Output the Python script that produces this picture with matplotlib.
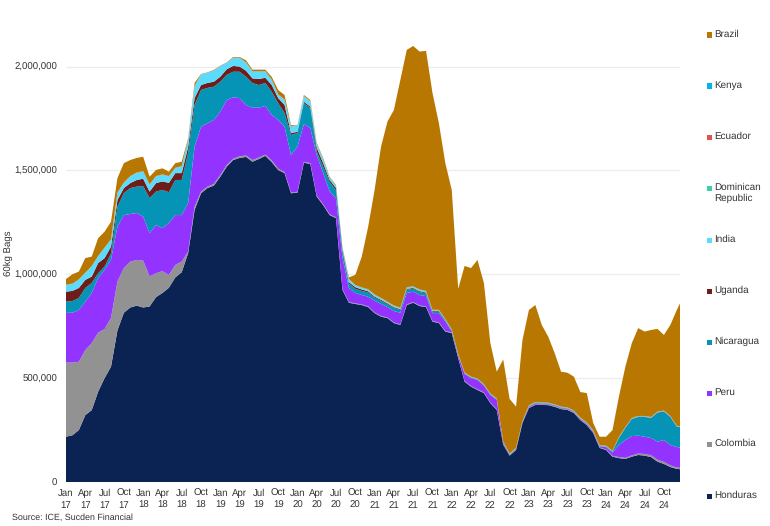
import numpy as np
import matplotlib
matplotlib.use("Agg")
import matplotlib.pyplot as plt
from matplotlib.patches import Rectangle

plt.rcParams['font.family'] = ['Liberation Sans', 'DejaVu Sans']
plt.rcParams['text.hinting'] = 'no_hinting'

# monthly readings from Jan 17, thousand bags, each list is the top edge of that band in the stack
honduras_top = [
    218, 225, 250, 322, 346, 435, 500, 555, 730, 815, 840, 849,
    840, 845, 890, 910, 935, 985, 1010, 1102, 1310, 1390, 1415, 1427,
    1470, 1518, 1550, 1560, 1565, 1542, 1555, 1570, 1540, 1502, 1487, 1390,
    1393, 1537, 1531, 1374, 1333, 1285, 1270, 925, 863, 857, 852, 842,
    813, 796, 789, 765, 756, 852, 863, 847, 842, 772, 765, 724,
    717, 597, 483, 459, 443, 428, 380, 347, 180, 127, 154, 284,
    356, 371, 371, 370, 362, 351, 347, 332, 298, 274, 236, 164,
    154, 122, 115, 111, 122, 130, 127, 120, 98, 87, 72, 63,
    60]
colombia_top = [
    575, 575, 579, 635, 668, 719, 736, 790, 965, 1030, 1061, 1069,
    1066, 990, 1005, 1015, 997, 1045, 1061, 1110, 1325, 1398, 1422, 1435,
    1478, 1526, 1556, 1568, 1572, 1550, 1562, 1576, 1548, 1508, 1492, 1394,
    1397, 1541, 1535, 1378, 1337, 1289, 1274, 928, 866, 860, 855, 845,
    816, 799, 792, 768, 759, 855, 866, 850, 845, 775, 768, 727,
    720, 600, 486, 462, 446, 431, 383, 350, 182, 129, 156, 286,
    358, 373, 373, 372, 364, 353, 349, 334, 300, 276, 238, 166,
    157, 126, 120, 116, 128, 137, 135, 129, 107, 97, 80, 70,
    67]
peru_top = [
    814, 815, 828, 868, 910, 982, 1021, 1070, 1229, 1285, 1290, 1295,
    1277, 1198, 1237, 1222, 1247, 1285, 1285, 1343, 1614, 1710, 1727, 1743,
    1783, 1839, 1852, 1848, 1815, 1802, 1802, 1810, 1767, 1743, 1710, 1574,
    1614, 1723, 1704, 1574, 1487, 1400, 1365, 1080, 934, 910, 900, 892,
    873, 857, 842, 823, 815, 910, 916, 900, 895, 813, 813, 772,
    724, 610, 520, 500, 491, 464, 419, 395, 188, 130, 158, 288,
    362, 378, 376, 375, 367, 356, 352, 337, 303, 280, 242, 170,
    168, 141, 178, 202, 221, 223, 218, 212, 194, 202, 178, 168,
    165]
nicaragua_top = [
    868, 871, 886, 934, 958, 1005, 1037, 1100, 1325, 1391, 1415, 1422,
    1425, 1367, 1398, 1406, 1395, 1454, 1454, 1584, 1815, 1887, 1897, 1903,
    1927, 1960, 1975, 1975, 1951, 1921, 1911, 1921, 1879, 1824, 1776, 1671,
    1680, 1824, 1800, 1590, 1518, 1445, 1405, 1110, 955, 930, 920, 912,
    888, 872, 855, 838, 828, 925, 930, 915, 908, 820, 820, 778,
    728, 612, 522, 502, 493, 466, 421, 397, 190, 132, 160, 290,
    364, 380, 378, 377, 369, 358, 354, 339, 305, 282, 244, 172,
    170, 146, 212, 260, 303, 313, 313, 308, 334, 339, 313, 266,
    262]
uganda_top = [
    916, 920, 934, 973, 989, 1054, 1078, 1133, 1357, 1415, 1439, 1454,
    1460, 1398, 1439, 1447, 1440, 1487, 1487, 1614, 1848, 1911, 1921, 1927,
    1951, 1987, 2003, 2000, 1980, 1943, 1940, 1946, 1911, 1848, 1815, 1680,
    1686, 1831, 1807, 1610, 1535, 1455, 1415, 1118, 962, 938, 927, 918,
    893, 877, 860, 842, 832, 930, 934, 919, 912, 823, 823, 780,
    730, 613, 523, 503, 494, 467, 422, 398, 191, 133, 161, 291,
    365, 381, 379, 378, 370, 359, 355, 340, 306, 283, 245, 173,
    171, 147, 213, 261, 304, 314, 314, 309, 335, 340, 314, 267,
    263]
india_top = [
    948, 952, 973, 1005, 1037, 1085, 1126, 1165, 1391, 1439, 1470, 1487,
    1494, 1430, 1470, 1478, 1470, 1510, 1518, 1647, 1903, 1960, 1969, 1979,
    2000, 2016, 2040, 2040, 2018, 1975, 1975, 1975, 1935, 1863, 1839, 1710,
    1715, 1855, 1831, 1625, 1553, 1465, 1425, 1125, 975, 945, 934, 925,
    900, 883, 865, 847, 836, 935, 939, 924, 917, 826, 826, 782,
    732, 614, 524, 504, 495, 468, 423, 399, 192, 134, 162, 292,
    366, 382, 380, 379, 371, 360, 356, 341, 307, 284, 246, 174,
    172, 148, 214, 262, 305, 315, 315, 310, 336, 341, 315, 268,
    264]
# Brazil sits on top, so this is the outline of the whole stack
brazil_top = [
    977, 1000, 1013, 1078, 1085, 1174, 1205, 1253, 1463, 1535, 1550, 1560,
    1566, 1470, 1502, 1510, 1494, 1535, 1542, 1655, 1921, 1964, 1971, 1984,
    2004, 2020, 2046, 2046, 2030, 1985, 1985, 1985, 1950, 1887, 1863, 1718,
    1718, 1863, 1839, 1632, 1560, 1470, 1430, 1130, 985, 997, 1085, 1229,
    1406, 1614, 1735, 1791, 1935, 2080, 2099, 2072, 2076, 1873, 1727, 1535,
    1406, 930, 1040, 1030, 1069, 958, 669, 531, 590, 400, 363, 684,
    828, 852, 756, 700, 621, 531, 526, 507, 433, 428, 284, 218,
    218, 250, 411, 555, 668, 741, 724, 732, 737, 708, 756, 828,
    891]

# these three are too thin to read on the chart
dominican_bags = 1
ecuador_bags = 1
kenya_bags = 1

countries = ['Honduras', 'Colombia', 'Peru', 'Nicaragua', 'Uganda', 'India',
             'Dominican\nRepublic', 'Ecuador', 'Kenya', 'Brazil']
colors = ['#0B2352', '#929292', '#9333FF', '#0593B6', '#6E1E1A', '#5BDCFF',
          '#3CCFA8', '#E0544F', '#00B5E8', '#B87700']
month_names = ['Jan', 'Apr', 'Jul', 'Oct']
years = ['17', '18', '19', '20', '21', '22', '23', '24']

india = np.array(india_top, dtype=float)
tops = np.array([honduras_top, colombia_top, peru_top, nicaragua_top, uganda_top, india_top,
                 india + dominican_bags,
                 india + dominican_bags + ecuador_bags,
                 india + dominican_bags + ecuador_bags + kenya_bags,
                 brazil_top], dtype=float)
tops = np.maximum.accumulate(tops, axis=0)
bands = np.diff(tops, axis=0, prepend=0) * 1000
months = np.arange(tops.shape[1])

fig = plt.figure(figsize=(7.7, 5.26), dpi=100)
ax = fig.add_axes([66 / 770, 44 / 526, 614 / 770, 457 / 526])

ax.stackplot(months, *bands, colors=colors, linewidth=0)

ax.set_xlim(0, 95.5)
ax.set_ylim(0, 2200000)
ax.set_yticks(range(0, 2000001, 500000))
ax.yaxis.set_major_formatter(lambda v, pos: f'{int(v):,}')
ax.set_xticks(range(0, 96, 3))
ax.set_xticklabels([f'{m}\n{y}' for y in years for m in month_names], linespacing=1.35)
ax.tick_params(length=0, labelsize=6.9, labelcolor='#333333')
ax.tick_params(axis='x', pad=5)
ax.tick_params(axis='y', pad=6.5)
ax.grid(axis='y', color='#EDEDED', linewidth=0.9)
ax.set_axisbelow(True)
for side in ax.spines.values():
    side.set_visible(False)
ax.set_ylabel('60kg Bags', fontsize=6.9, color='#333333')
ax.yaxis.set_label_coords((13 - 66) / 614, (482 - 253) / 457)

# legend column, Brazil first
row_y = [35, 86, 137, 188, 240, 291, 342, 393, 444, 496]
for name, color, y in zip(countries[::-1], colors[::-1], row_y):
    fig.add_artist(Rectangle((707 / 770, 1 - (y + 2.5) / 526), 5 / 770, 5 / 526,
                             color=color, transform=fig.transFigure, linewidth=0))
    fig.text(714.5 / 770, 1 - (y - 5) / 526, name, fontsize=7.1, color='#333333', va='top',
             linespacing=1.2)

fig.text(12.5 / 770, 1 - 518 / 526, 'Source: ICE, Sucden Financial', fontsize=6.4,
         color='#333333', va='center')

fig.savefig('out.png', dpi=100)
